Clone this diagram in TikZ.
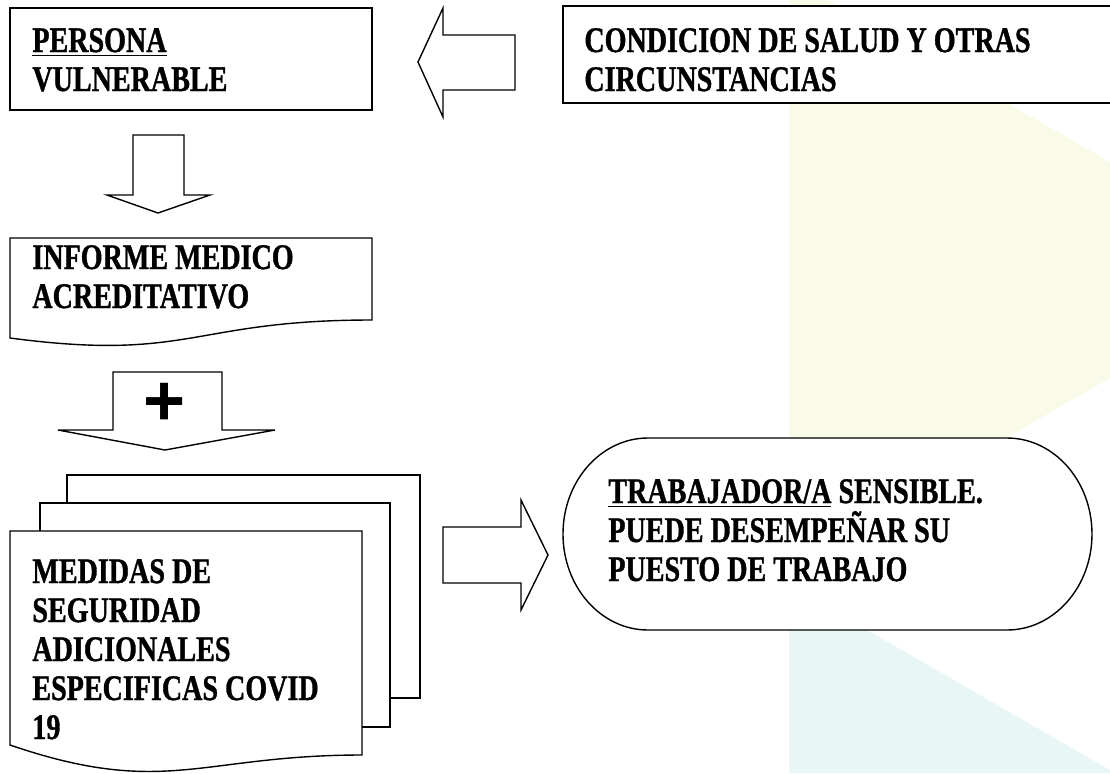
\documentclass[tikz,border=0pt]{standalone}
\usepackage{fontspec}
\setmainfont{Liberation Serif}[FakeStretch=0.78, BoldFeatures={FakeBold=1}]
\newfontfamily\signofont{Liberation Sans}
\definecolor{fondoamarillo}{RGB}{249,250,232}
\definecolor{fondoceleste}{RGB}{233,246,246}
\tikzset{
  caja/.style={draw, fill=white, line width=0.7pt},
  texto/.style={inner sep=0pt, anchor=base west, font=\fontsize{18}{19.5}\selectfont\bfseries},
  signo/.style={inner sep=0pt, font=\signofont\fontsize{36}{36}\selectfont\bfseries},
}
\begin{document}
\begin{tikzpicture}[x=0.5pt, y=-0.5pt, line join=miter]
	\useasboundingbox (0,0) rectangle (1110,773);
	% Fondo: triangulos claros a la derecha
	\fill[fondoamarillo] (789,0) -- (828,0) -- (1110,162) -- (1110,378) -- (789,563) -- cycle;
	\fill[fondoceleste] (789,585) -- (1110,770) -- (1110,773) -- (789,773) -- cycle;
	% Caja de la persona vulnerable
	\draw[caja] (10,8) rectangle (372,110);
	\node[texto] (persona) at (32,52) {\parbox[t]{300pt}{\underline{PERSONA}\\VULNERABLE}};
	% Caja de la condicion de salud (sale por la derecha)
	\draw[caja] (563,6) rectangle (1130,103);
	\node[texto] (condicion) at (584,52) {\parbox[t]{300pt}{CONDICION DE SALUD Y OTRAS\\CIRCUNSTANCIAS}};
	% Flecha hacia la izquierda
	\draw[caja] (418,62) -- (443,8) -- (443,35) -- (515,35) -- (515,90) -- (443,90) -- (443,117) -- cycle;
	% Flecha hacia abajo
	\draw[caja] (133,135) -- (184,135) -- (184,195) -- (210,195) -- (158,213) -- (107,195) -- (133,195) -- cycle;
	% Documento del informe medico
	\draw[caja] (10,238) -- (372,238) -- (372,320) .. controls (191,320) and (191,362) .. (10,338) -- cycle;
	\node[texto] (informe) at (32,269) {\parbox[t]{300pt}{INFORME MEDICO\\ACREDITATIVO}};
	% Flecha con el signo mas
	\draw[caja] (113,372) -- (222,372) -- (222,430) -- (275,430) -- (165,450) -- (58,430) -- (113,430) -- cycle;
	\node[signo] (mas) at (165,404) {+};
	% Multidocumento: hojas de atras y hoja delantera
	\draw[caja] (67,475) rectangle (420,698);
	\draw[caja] (40,503) rectangle (390,727);
	\draw[caja] (10,531) -- (362,531) -- (362,755) .. controls (200,755) and (165,798) .. (10,745) -- cycle;
	\node[texto] (medidas) at (32,583) {\parbox[t]{300pt}{MEDIDAS DE\\SEGURIDAD\\ADICIONALES\\ESPECIFICAS COVID\\19}};
	% Flecha hacia la derecha
	\draw[caja] (443,527) -- (521,527) -- (521,500) -- (548,555) -- (521,610) -- (521,583) -- (443,583) -- cycle;
	% Terminal redondeado del trabajador sensible
	\draw[caja] (648,438) -- (1007,438) arc[start angle=-90, end angle=90, x radius=85, y radius=96]
		-- (648,630) arc[start angle=90, end angle=270, x radius=85, y radius=96] -- cycle;
	\node[texto] (trabajador) at (608,503)
		{\parbox[t]{300pt}{\underline{TRABAJADOR/A} SENSIBLE.\\PUEDE DESEMPEÑAR SU\\PUESTO DE TRABAJO}};
\end{tikzpicture}
\end{document}
